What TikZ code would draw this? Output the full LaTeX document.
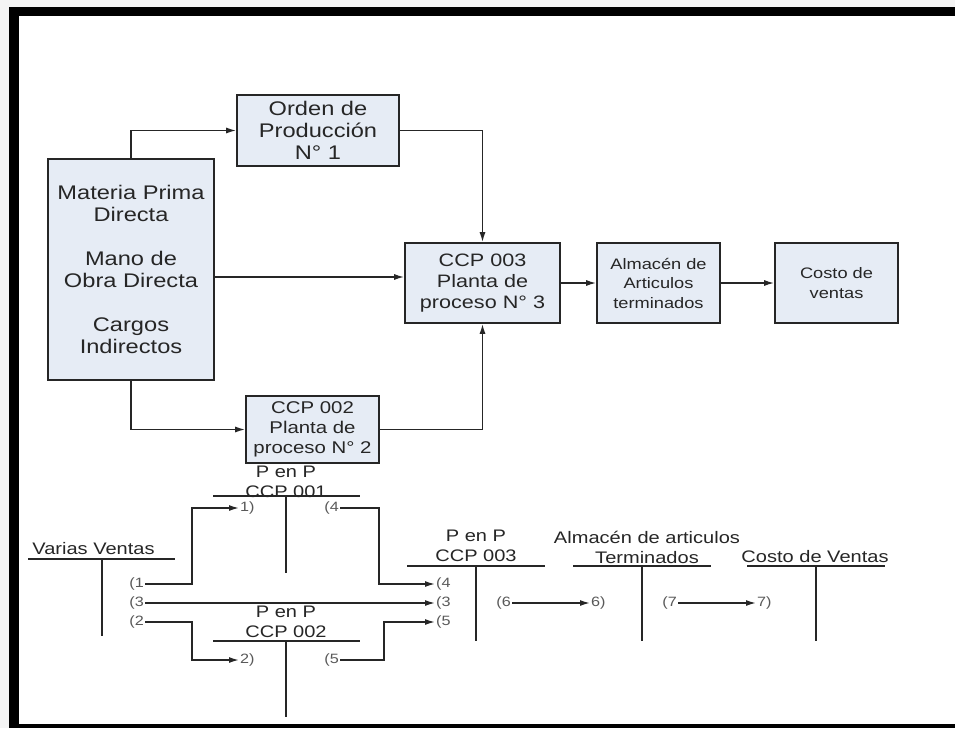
\documentclass[tikz,border=0pt]{standalone}
\usepackage{fontspec}
\setmainfont{Liberation Sans}[FakeStretch=1.2]
\usetikzlibrary{arrows.meta}
\definecolor{boxfill}{HTML}{E6ECF5}
\definecolor{bgout}{HTML}{F4F4F4}
\begin{document}
\begin{tikzpicture}[x=1pt,y=-1pt,
 box/.style={draw=black!85, line width=1.6pt, fill=boxfill, align=center, inner sep=0pt, text=black!85},
 arr/.style={line width=1.5pt, draw=black!85, -{Latex[length=10pt,width=6pt]}},
 tline/.style={line width=1.7pt, draw=black!85},
 ttext/.style={align=center, font=\fontsize{16.7}{20}\selectfont, text=black!85, inner sep=0pt},
 lbl/.style={font=\fontsize{13.5}{15}\selectfont, text=black!65, inner sep=1pt},
]
\useasboundingbox (0,0) rectangle (955,728);
% frame
\fill[bgout] (0,0) rectangle (955,728);
\fill[black] (9,7) rectangle (955,728);
\fill[white] (19,16) rectangle (955,724);

% ---------- top flow chart ----------
\node[box, minimum width=166pt, minimum height=221pt, font=\fontsize{19.7}{22}\selectfont] (mat) at (131,269.5)
  {Materia Prima\\Directa\\[22pt]Mano de\\Obra Directa\\[22pt]Cargos\\Indirectos};
\node[box, minimum width=162pt, minimum height=71pt, font=\fontsize{19.7}{22}\selectfont] (orden) at (318,130.5)
  {Orden de\\Producción\\N° 1};
\node[box, minimum width=155pt, minimum height=80pt, font=\fontsize{18}{21}\selectfont] (ccp3) at (482.5,283)
  {CCP 003\\Planta de\\proceso N° 3};
\node[box, minimum width=133pt, minimum height=67pt, font=\fontsize{17}{20}\selectfont] (ccp2) at (312.5,429.5)
  {CCP 002\\Planta de\\proceso N° 2};
\node[box, minimum width=123pt, minimum height=80pt, font=\fontsize{15.2}{19.5}\selectfont] (alm) at (658.5,283)
  {Almacén de\\Articulos\\terminados};
\node[box, minimum width=123pt, minimum height=80pt, font=\fontsize{15.2}{19.5}\selectfont] (costo) at (836.5,283)
  {Costo de\\ventas};

\draw[arr] (mat.north) |- (orden.west);
\draw[arr] (mat.east |- 0,277) -- (ccp3.west |- 0,277);
\draw[arr] (orden.east) -| (ccp3.north);
\draw[arr] (mat.south) |- (ccp2.west);
\draw[arr] (ccp2.east) -| (ccp3.south);
\draw[arr] (ccp3.east) -- (alm.west);
\draw[arr] (alm.east) -- (costo.west);

% ---------- T accounts ----------
% Varias Ventas
\node[ttext] (vv) at (93.5,549) {Varias Ventas};
\coordinate (vvL) at (28,559); \coordinate (vvR) at (175,559);
\coordinate (vvT) at (102,559); \coordinate (vvB) at (102,636);
\draw[tline] (vvL) -- (vvR); \draw[tline] (vvT) -- (vvB);

% P en P CCP 001
\node[ttext] (t1) at (286,482) {P en P\\CCP 001};
\coordinate (t1L) at (213,496); \coordinate (t1R) at (360,496);
\coordinate (t1T) at (286,496); \coordinate (t1B) at (286,573);
\draw[tline] (t1L) -- (t1R); \draw[tline] (t1T) -- (t1B);

% P en P CCP 002
\node[ttext] (t2) at (286,621.5) {P en P\\CCP 002};
\coordinate (t2L) at (213,641); \coordinate (t2R) at (360,641);
\coordinate (t2T) at (286,641); \coordinate (t2B) at (286,717);
\draw[tline] (t2L) -- (t2R); \draw[tline] (t2T) -- (t2B);

% P en P CCP 003
\node[ttext] (t3) at (476,546) {P en P\\CCP 003};
\coordinate (t3L) at (407,566); \coordinate (t3R) at (545,566);
\coordinate (t3T) at (476,566); \coordinate (t3B) at (476,641);
\draw[tline] (t3L) -- (t3R); \draw[tline] (t3T) -- (t3B);

% Almacen de articulos Terminados
\node[ttext] (t4) at (647,547) {Almacén de articulos\\Terminados};
\coordinate (t4L) at (573,566); \coordinate (t4R) at (711,566);
\coordinate (t4T) at (642,566); \coordinate (t4B) at (642,641);
\draw[tline] (t4L) -- (t4R); \draw[tline] (t4T) -- (t4B);

% Costo de Ventas
\node[ttext] (t5) at (815,557) {Costo de Ventas};
\coordinate (t5L) at (747,566); \coordinate (t5R) at (885,566);
\coordinate (t5T) at (816,566); \coordinate (t5B) at (816,641);
\draw[tline] (t5L) -- (t5R); \draw[tline] (t5T) -- (t5B);

% ---------- entry labels ----------
\node[lbl, anchor=east] (l1) at (145,584) {(1};
\node[lbl, anchor=east] (l3) at (145,603) {(3};
\node[lbl, anchor=east] (l2) at (145,622) {(2};
\node[lbl, anchor=west] (r1) at (239,508) {1)};
\node[lbl, anchor=west] (r2) at (239,660) {2)};
\node[lbl, anchor=east] (l4) at (340,508) {(4};
\node[lbl, anchor=east] (l5) at (340,660) {(5};
\node[lbl, anchor=west] (r4) at (435,584) {(4};
\node[lbl, anchor=west] (r3) at (435,603) {(3};
\node[lbl, anchor=west] (r5) at (435,622) {(5};
\node[lbl, anchor=east] (l6) at (512,603) {(6};
\node[lbl, anchor=west] (r6) at (590,603) {6)};
\node[lbl, anchor=east] (l7) at (678,603) {(7};
\node[lbl, anchor=west] (r7) at (756,603) {7)};

\draw[arr] (l1.east) -- (192,584) |- (r1.west);
\draw[arr] (l2.east) -- (192,622) |- (r2.west);
\draw[arr] (l3.east) -- (r3.west);
\draw[arr] (l4.east) -- (379,508) |- (r4.west);
\draw[arr] (l5.east) -- (384,660) |- (r5.west);
\draw[arr] (l6.east) -- (r6.west);
\draw[arr] (l7.east) -- (r7.west);
\end{tikzpicture}
\end{document}
